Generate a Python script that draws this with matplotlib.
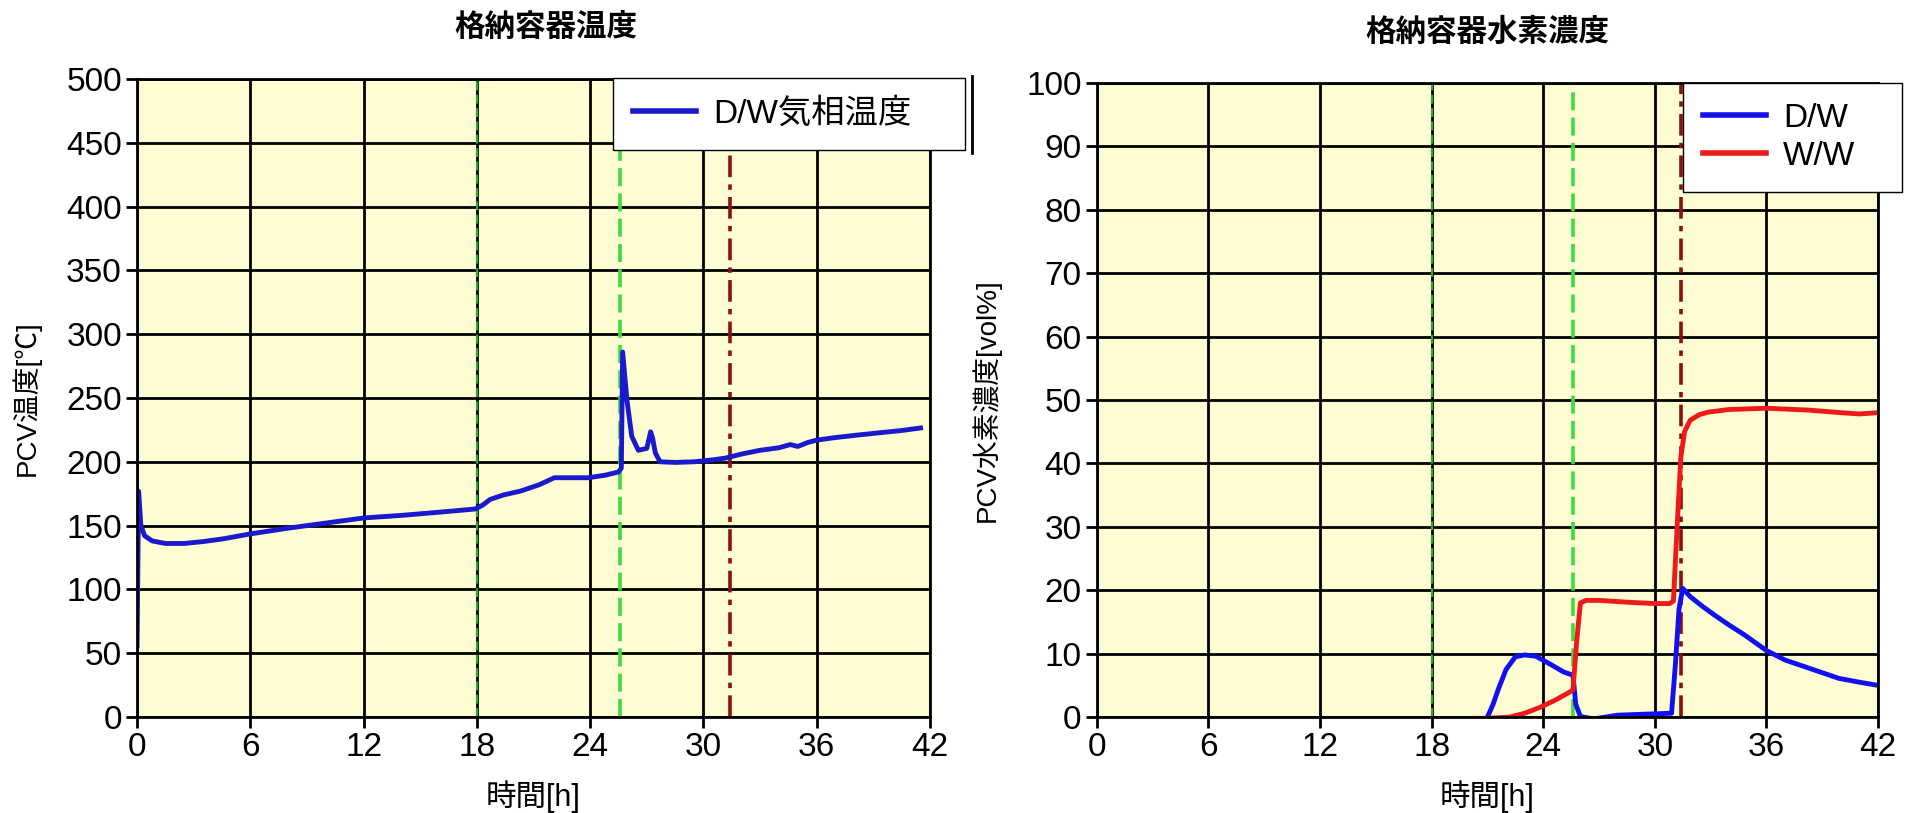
import matplotlib
matplotlib.use('Agg')
import matplotlib.pyplot as plt
from matplotlib.lines import Line2D

plt.rcParams['font.family'] = ['Liberation Sans', 'Noto Sans CJK JP', 'DejaVu Sans']

# ---- data: left panel (containment temperature) ----
t_temp = [0.0, 0.08, 0.2, 0.4, 0.8, 1.5, 2.5, 3.5, 4.5, 6, 8, 10, 12, 14, 16,
          17.9, 18.3, 18.7, 19.4, 20.3, 21.3, 22.1, 23.0, 23.9, 24.8, 25.5,
          25.65, 25.72, 25.95, 26.2, 26.55, 27.0, 27.2, 27.3, 27.45, 27.7,
          28.5, 29.5, 30.5, 31.2, 32, 33, 34, 34.6, 35.0, 35.5, 36, 37, 38.2,
          39.5, 40.5, 41.5]
temp_dw = [56, 177, 150, 142, 138, 136, 136, 137.5, 139.5, 143.5, 148, 152,
           156, 158, 160.5, 163, 166, 170.5, 174, 177, 182, 187.5, 187.5,
           187.5, 189.5, 192, 195, 286, 248, 220, 209, 210.5, 223.5, 219, 207,
           200, 199.5, 200, 201.5, 203, 206, 209, 211, 213.5, 212, 215, 217,
           219, 221, 223, 224.5, 226.5]

# ---- data: right panel (hydrogen concentration) ----
t_dw = [21.0, 21.3, 21.6, 22.0, 22.5, 23.0, 23.6, 24.4, 25.1, 25.6, 25.75,
        26.0, 26.7, 28.0, 29.9, 30.9, 31.1, 31.3, 31.5, 31.9, 32.5, 33.2,
        34.0, 34.8, 36.0, 37.0, 38.3, 39.9, 41.0, 42.0]
h2_dw = [0, 2, 4.5, 7.5, 9.5, 9.8, 9.6, 8.3, 7.1, 6.6, 2.0, 0.1, -0.3, 0.3,
         0.5, 0.6, 8, 17, 20.3, 19, 17.6, 16.1, 14.5, 13, 10.5, 9, 7.7, 6.1,
         5.5, 5.0]
t_ww = [20.3, 21.0, 22.2, 23.0, 23.8, 24.6, 25.4, 25.6, 25.8, 26.0, 26.3,
        27.0, 28.6, 30.0, 30.8, 31.0, 31.2, 31.4, 31.6, 31.9, 32.4, 32.9,
        34.0, 36.0, 38.3, 40.0, 41.0, 42.0]
h2_ww = [-0.2, -0.2, 0.0, 0.6, 1.5, 2.6, 3.9, 4.3, 12, 18.0, 18.4, 18.4,
         18.1, 17.9, 17.9, 18.3, 30, 41, 45, 46.8, 47.7, 48.1, 48.5, 48.7,
         48.4, 48.0, 47.8, 48.0]

# event markers (hours)
t_event1 = 18.0
t_event2 = 25.6
t_event3 = 31.4

x_ticks = [0, 6, 12, 18, 24, 30, 36, 42]
bg = '#FDFCD3'

fig = plt.figure(figsize=(19.12, 8.13), dpi=100)
axL = fig.add_axes([0.0717, 0.118, 0.4147, 0.785])
axR = fig.add_axes([0.5737, 0.118, 0.4085, 0.780])


def style_axes(ax, ymax, ystep):
    ax.set_facecolor(bg)
    ax.set_xlim(0, 42)
    ax.set_ylim(0, ymax)
    ax.set_xticks(x_ticks)
    ax.set_yticks(range(0, ymax + 1, ystep))
    ax.grid(True, color='black', linewidth=2)
    ax.set_axisbelow(True)
    for s in ax.spines.values():
        s.set_linewidth(2)
        s.set_color('black')
    ax.tick_params(labelsize=24, length=8, width=2, pad=3)
    ax.axvline(t_event1, color='#2BAA2B', linestyle=(0, (4, 2)), linewidth=1.6)
    ax.axvline(t_event2, color='#3CDC3C', linestyle=(0, (5, 2)), linewidth=2.6)
    ax.axvline(t_event3, color='#8B1010', linestyle=(0, (6, 2, 1.5, 2)), linewidth=2.6)
    ax.set_xlabel('時間[h]', fontsize=22, labelpad=12)


style_axes(axL, 500, 50)
axL.plot(t_temp, temp_dw, color='#1A1ACC', linewidth=3.5)
axL.set_title('格納容器温度', fontsize=22, fontweight='bold', pad=30, x=0.515)
axL.set_ylabel('PCV温度[℃]', fontsize=20, labelpad=18)
axL.legend(handles=[Line2D([], [], color='#1A1ACC', linewidth=4)],
           labels=['D/W気相温度'], loc='upper left', mode='expand',
           bbox_to_anchor=(0.3206, 0.0, 0.1841, 0.904),
           bbox_transform=fig.transFigure,
           fontsize=24, fancybox=False, framealpha=1, edgecolor='black',
           handlelength=1.9, handletextpad=0.5, borderpad=0.6,
           borderaxespad=0)
# clipped edge of the legend panel
fig.add_artist(Line2D([972 / 1912, 972 / 1912], [1 - 76 / 813, 1 - 153 / 813],
                      transform=fig.transFigure, color='black', linewidth=2))

style_axes(axR, 100, 10)
axR.plot(t_dw, h2_dw, color='#1010F0', linewidth=3.5, label='D/W')
axR.plot(t_ww, h2_ww, color='#EE1A1A', linewidth=3.5, label='W/W')
axR.set_title('格納容器水素濃度', fontsize=22, fontweight='bold', pad=30)
axR.set_ylabel('PCV水素濃度[vol%]', fontsize=20, labelpad=18)
leg = axR.legend(loc='upper left', mode='expand',
                 bbox_to_anchor=(0.8802, 0.0, 0.1145, 0.898),
                 bbox_transform=fig.transFigure, fontsize=24, fancybox=False,
                 framealpha=1, edgecolor='black', handlelength=1.9,
                 handletextpad=0.5, borderpad=0.6, labelspacing=0.2,
                 borderaxespad=0)
for ln in leg.get_lines():
    ln.set_linewidth(4)

fig.savefig('out.png', dpi=100, facecolor='white')
